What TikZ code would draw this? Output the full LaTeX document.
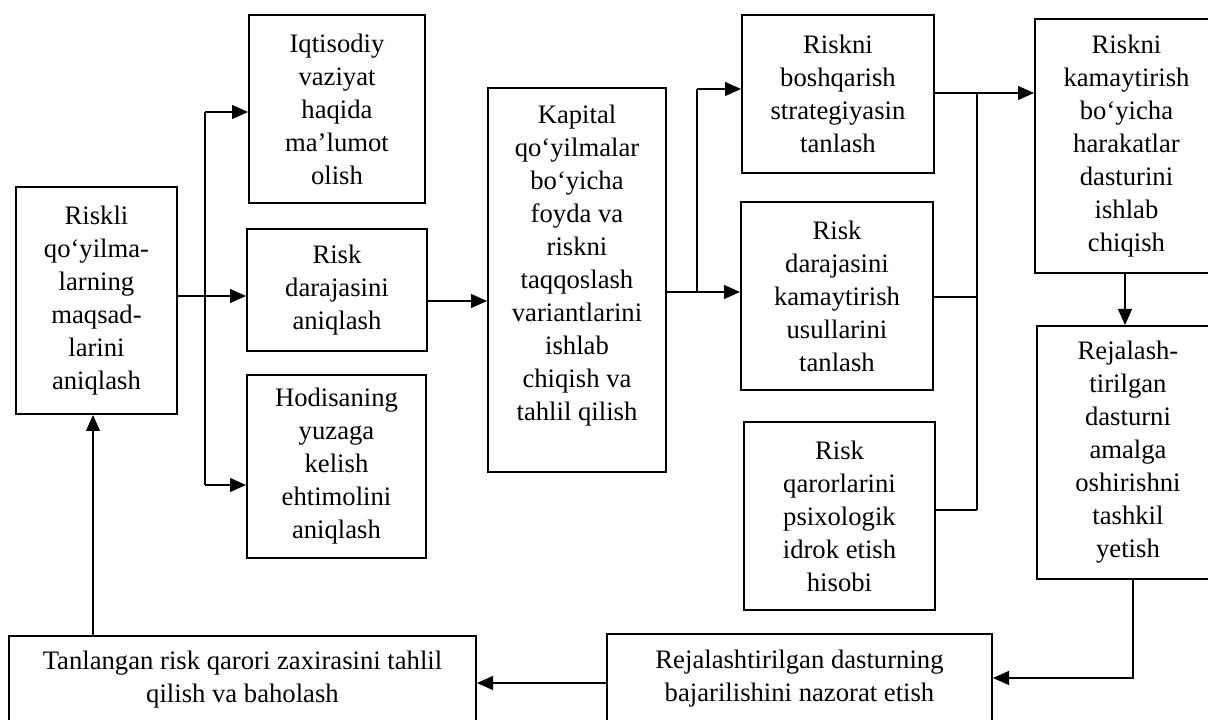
\documentclass[tikz,border=0pt]{standalone}
\usepackage{fontspec}
\setmainfont{Liberation Serif}
\usetikzlibrary{arrows.meta}
\tikzset{
  box/.style={draw=black, line width=1.5pt, rectangle, inner sep=0pt, align=center,
    font=\fontsize{20pt}{24.75pt}\selectfont},
  conn/.style={draw=black, line width=0.9pt},
  arr/.style={conn, -{Triangle[length=12pt,width=10.5pt]}}
}
\begin{document}
\begin{tikzpicture}[x=0.75pt,y=-0.75pt]
\useasboundingbox (0,0) rectangle (1208,720);
\clip (0,0) rectangle (1208,720);
\fill[white] (0,0) rectangle (1208,720);

% boxes (pixel coords, y downwards)
\node[box, minimum width=120.75pt, minimum height=170.25pt] (A) at (96.5,300.5)
  {Riskli\\qo‘yilma-\\larning\\maqsad-\\larini\\aniqlash};
\node[box, minimum width=132pt, minimum height=141pt] (B) at (337,109)
  {Iqtisodiy\\vaziyat\\haqida\\ma’lumot\\olish};
\node[box, minimum width=135pt, minimum height=91.5pt] (C) at (337,290)
  {Risk\\darajasini\\aniqlash};
\node[box, minimum width=134.25pt, minimum height=137.25pt] (D) at (336.5,466.5)
  {Hodisaning\\yuzaga\\kelish\\ehtimolini\\aniqlash};
\node[box, minimum width=133.5pt, minimum height=288pt] (E) at (577,280)
  {Kapital\\qo‘yilmalar\\bo‘yicha\\foyda va\\riskni\\taqqoslash\\variantlarini\\ishlab\\chiqish va\\tahlil qilish\rule[-26pt]{0pt}{1pt}};
\node[box, minimum width=144pt, minimum height=118.5pt] (F) at (838,94)
  {Riskni\\boshqarish\\strategiyasin\\tanlash};
\node[box, minimum width=144pt, minimum height=141pt] (G) at (837,296)
  {Risk\\darajasini\\kamaytirish\\usullarini\\tanlash};
\node[box, minimum width=143.25pt, minimum height=141pt] (H) at (839.5,516)
  {Risk\\qarorlarini\\psixologik\\idrok etish\\hisobi};
\node[box, minimum width=137.25pt, minimum height=190.5pt] (I) at (1126.5,146)
  {Riskni\\kamaytirish\\bo‘yicha\\harakatlar\\dasturini\\ishlab\\chiqish};
\node[box, minimum width=136.5pt, minimum height=189.75pt] (J) at (1128,452.5)
  {Rejalash-\\tirilgan\\dasturni\\amalga\\oshirishni\\tashkil\\yetish};
\node[box, minimum width=288.75pt, minimum height=66.75pt] (K) at (799.5,678.5)
  {Rejalashtirilgan dasturning\\bajarilishini nazorat etish};
\node[box, minimum width=350.25pt, minimum height=66pt] (L) at (242.5,680)
  {Tanlangan risk qarori zaxirasini tahlil\\qilish va baholash};

% junction coordinates
\coordinate (b1) at (205,112);
\coordinate (b2) at (205,485);
\coordinate (ac) at (0,296);
\coordinate (ce) at (0,301);
\coordinate (e1) at (697,292);
\coordinate (e2) at (697,89);
\coordinate (f1) at (977,93);
\coordinate (g1) at (977,297);
\coordinate (f2) at (977,510);
\coordinate (ij) at (1125,0);
\coordinate (j1) at (1133,678);
\coordinate (kl) at (0,683);
\coordinate (la) at (93,0);

% connectors
\draw[arr] (A.east |- ac) -- (C.west |- ac);
\draw[conn] (b1) -- (b2);
\draw[arr] (b1) -- (b1 -| B.west);
\draw[arr] (b2) -- (b2 -| D.west);
\draw[arr] (C.east |- ce) -- (E.west |- ce);
\draw[arr] (E.east |- e1) -- (G.west |- e1);
\draw[conn] (e1) -- (e2);
\draw[arr] (e2) -- (e2 -| F.west);
\draw[arr] (F.east |- f1) -- (I.west |- f1);
\draw[conn] (f1) -- (f2);
\draw[conn] (G.east |- g1) -- (g1);
\draw[conn] (H.east |- f2) -- (f2);
\draw[arr] (I.south -| ij) -- (J.north -| ij);
\draw[arr] (J.south -| j1) -- (j1) -- (K.east |- j1);
\draw[arr] (K.west |- kl) -- (L.east |- kl);
\draw[arr] (L.north -| la) -- (A.south -| la);
\end{tikzpicture}
\end{document}
